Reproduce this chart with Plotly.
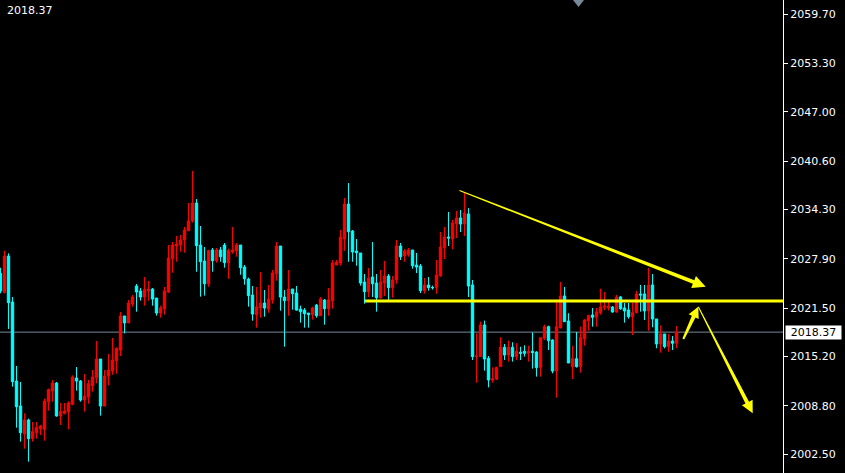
import math
import plotly.graph_objects as go

# ---------------- data ----------------
open_ = [
    2026.01, 2023.54, 2028.26, 2022.28, 2012.02, 2008.77, 2005.14, 2006.96, 2004.57, 2005.31,
    2005.83, 2005.74, 2009.34, 2010.72, 2011.76, 2007.48, 2007.82, 2008.04, 2008.99, 2012.41,
    2012.02, 2009.55, 2009.94, 2011.37, 2012.45, 2014.88, 2008.77, 2012.67, 2013.32, 2014.66,
    2016.05, 2020.47, 2019.56, 2022.02, 2024.36, 2023.71, 2022.93, 2023.71, 2023.97, 2022.80,
    2020.85, 2021.42, 2023.58, 2027.91, 2029.56, 2029.69, 2030.34, 2031.55, 2032.81, 2035.14,
    2029.69, 2027.61, 2024.66, 2029.04, 2027.65, 2029.04, 2029.69, 2027.39, 2028.78, 2028.95,
    2029.69, 2026.83, 2025.27, 2023.19, 2020.64, 2021.50, 2022.15, 2021.37, 2022.54, 2025.96,
    2029.56, 2022.93, 2022.46, 2023.97, 2023.45, 2021.37, 2021.24, 2020.85, 2020.64, 2021.89,
    2020.51, 2022.54, 2021.42, 2022.46, 2027.09, 2027.35, 2030.47, 2035.01, 2031.51, 2028.91,
    2028.65, 2024.88, 2023.63, 2025.53, 2024.75, 2022.85, 2024.75, 2025.66, 2024.15, 2025.14,
    2029.56, 2028.26, 2028.43, 2029.04, 2027.09, 2026.96, 2023.76, 2024.49, 2024.15, 2024.15,
    2025.70, 2029.34, 2030.73, 2030.47, 2032.42, 2033.20, 2032.42, 2033.72, 2024.50, 2015.19,
    2015.19, 2019.30, 2014.97, 2012.15, 2012.28, 2013.89, 2016.40, 2015.40, 2016.40, 2015.19,
    2015.75, 2015.88, 2015.62, 2015.88, 2015.79, 2013.76, 2017.57, 2019.08, 2017.35, 2013.32,
    2018.91, 2023.07, 2019.82, 2013.89, 2014.92, 2013.89, 2017.52, 2019.86, 2020.60, 2020.30,
    2020.90, 2021.59, 2021.51, 2021.63, 2020.99, 2022.94, 2021.51, 2021.25, 2020.38, 2020.90,
    2023.33, 2023.33, 2021.12, 2024.50, 2020.08, 2016.83, 2018.13, 2016.49, 2017.22, 2016.92,
]
high = [
    2026.74, 2028.95, 2028.61, 2022.93, 2013.97, 2011.89, 2007.82, 2007.13, 2006.70, 2006.70,
    2006.31, 2009.73, 2011.03, 2012.15, 2011.89, 2009.16, 2009.16, 2009.38, 2012.76, 2013.84,
    2012.15, 2012.93, 2012.15, 2013.45, 2017.22, 2014.88, 2013.45, 2015.53, 2017.61, 2016.39,
    2020.98, 2020.47, 2022.54, 2023.19, 2024.62, 2024.10, 2025.53, 2025.01, 2024.10, 2022.80,
    2021.81, 2024.23, 2029.69, 2030.08, 2030.86, 2030.99, 2032.03, 2035.14, 2039.30, 2035.66,
    2032.16, 2029.43, 2029.08, 2029.30, 2029.30, 2029.43, 2029.95, 2029.21, 2032.03, 2029.95,
    2029.69, 2027.09, 2025.44, 2024.36, 2024.23, 2026.18, 2023.84, 2024.49, 2026.44, 2030.08,
    2029.56, 2023.84, 2026.44, 2023.97, 2024.36, 2021.81, 2021.50, 2020.85, 2021.68, 2022.02,
    2022.93, 2022.67, 2024.10, 2027.74, 2027.74, 2031.64, 2035.79, 2037.74, 2031.64, 2030.47,
    2028.65, 2025.92, 2026.70, 2030.08, 2025.92, 2026.44, 2027.61, 2025.92, 2025.66, 2030.34,
    2029.95, 2029.17, 2029.30, 2029.04, 2028.65, 2027.22, 2025.40, 2025.53, 2024.40, 2027.74,
    2031.38, 2032.03, 2033.98, 2032.94, 2034.11, 2034.24, 2036.57, 2034.49, 2025.15, 2018.22,
    2019.73, 2019.86, 2015.27, 2013.80, 2013.89, 2017.70, 2016.83, 2017.26, 2017.05, 2016.92,
    2016.48, 2016.66, 2016.61, 2018.34, 2015.88, 2017.70, 2019.34, 2019.21, 2017.44, 2022.55,
    2024.89, 2024.24, 2020.82, 2016.61, 2018.39, 2019.08, 2020.04, 2020.64, 2021.51, 2021.51,
    2024.02, 2023.59, 2022.55, 2021.77, 2023.20, 2023.07, 2022.16, 2022.16, 2022.20, 2023.71,
    2024.50, 2024.50, 2026.70, 2025.92, 2020.08, 2019.26, 2018.13, 2018.13, 2017.87, 2019.17,
]
low = [
    2023.41, 2023.41, 2018.78, 2011.29, 2005.96, 2004.14, 2003.23, 2001.54, 2004.14, 2004.53,
    2005.01, 2004.27, 2008.17, 2009.34, 2007.39, 2006.31, 2007.69, 2005.74, 2008.86, 2010.77,
    2009.34, 2008.04, 2009.08, 2010.64, 2011.72, 2007.52, 2008.77, 2011.46, 2012.84, 2012.97,
    2015.27, 2018.21, 2019.56, 2021.68, 2021.03, 2022.46, 2021.81, 2022.46, 2021.81, 2020.51,
    2020.25, 2020.64, 2023.45, 2026.09, 2027.52, 2028.82, 2028.69, 2031.55, 2032.59, 2026.22,
    2022.98, 2023.11, 2024.27, 2026.22, 2027.39, 2027.52, 2026.74, 2025.31, 2028.56, 2028.17,
    2025.83, 2024.53, 2021.68, 2019.86, 2018.95, 2020.25, 2020.38, 2020.90, 2022.07, 2025.05,
    2021.16, 2016.48, 2020.51, 2021.29, 2021.16, 2019.60, 2018.95, 2018.95, 2019.99, 2020.25,
    2020.51, 2019.34, 2020.51, 2021.42, 2027.09, 2027.00, 2028.95, 2027.52, 2027.52, 2027.00,
    2024.41, 2022.07, 2022.93, 2022.93, 2021.03, 2022.72, 2023.06, 2022.54, 2022.85, 2024.66,
    2027.74, 2027.52, 2028.17, 2026.61, 2026.05, 2023.45, 2023.37, 2023.76, 2023.90, 2023.37,
    2025.57, 2027.87, 2029.56, 2029.13, 2030.60, 2031.38, 2030.86, 2022.93, 2014.75, 2011.81,
    2015.19, 2013.37, 2011.20, 2011.81, 2012.15, 2013.89, 2014.75, 2014.54, 2014.54, 2014.75,
    2014.75, 2015.19, 2014.54, 2013.63, 2012.59, 2012.59, 2017.35, 2016.05, 2013.02, 2009.86,
    2018.91, 2019.73, 2014.36, 2012.28, 2013.76, 2013.11, 2016.61, 2018.56, 2019.08, 2019.08,
    2020.64, 2021.25, 2021.16, 2020.90, 2020.90, 2021.25, 2019.60, 2020.12, 2018.00, 2020.82,
    2021.03, 2019.95, 2018.56, 2019.00, 2016.27, 2015.70, 2016.27, 2015.83, 2016.05, 2016.27,
]
close = [
    2023.71, 2028.26, 2022.20, 2011.94, 2008.69, 2005.31, 2006.96, 2004.53, 2005.44, 2005.96,
    2006.13, 2009.42, 2010.90, 2011.76, 2007.48, 2008.04, 2008.13, 2009.16, 2012.54, 2012.02,
    2009.55, 2010.03, 2011.68, 2012.54, 2014.88, 2008.77, 2012.67, 2013.45, 2014.75, 2016.26,
    2020.47, 2019.56, 2022.15, 2022.93, 2023.58, 2022.93, 2023.89, 2023.97, 2022.67, 2020.85,
    2021.50, 2023.71, 2028.00, 2029.69, 2029.82, 2030.34, 2031.64, 2032.81, 2035.14, 2029.60,
    2027.52, 2024.66, 2028.95, 2027.65, 2029.04, 2028.17, 2027.39, 2028.95, 2029.04, 2029.69,
    2026.74, 2025.31, 2023.11, 2020.72, 2021.63, 2022.15, 2021.50, 2022.67, 2026.05, 2029.56,
    2022.93, 2022.46, 2023.97, 2023.37, 2021.24, 2021.03, 2020.77, 2020.64, 2021.50, 2020.51,
    2022.67, 2021.42, 2022.54, 2027.35, 2027.48, 2030.73, 2035.01, 2031.42, 2028.78, 2028.69,
    2024.75, 2023.63, 2025.40, 2024.66, 2022.85, 2024.88, 2025.66, 2024.15, 2025.14, 2029.56,
    2028.17, 2028.91, 2029.04, 2027.00, 2026.83, 2023.76, 2024.49, 2024.15, 2024.15, 2025.79,
    2029.43, 2030.73, 2030.60, 2032.55, 2033.20, 2032.42, 2033.85, 2024.36, 2015.19, 2015.27,
    2019.30, 2014.88, 2012.15, 2012.28, 2013.76, 2016.40, 2015.40, 2016.40, 2015.19, 2015.88,
    2015.62, 2015.62, 2015.88, 2015.71, 2013.76, 2017.65, 2019.08, 2017.26, 2013.32, 2019.08,
    2023.07, 2019.73, 2014.36, 2014.92, 2013.89, 2017.65, 2019.95, 2020.51, 2020.30, 2020.99,
    2021.63, 2021.77, 2021.77, 2020.99, 2022.94, 2021.42, 2021.12, 2020.38, 2020.90, 2023.33,
    2023.20, 2021.12, 2024.50, 2020.08, 2016.83, 2018.13, 2016.49, 2017.22, 2016.92, 2018.37,
]
bar_index = list(range(1, len(close) + 1))

tick_values = [2059.70, 2053.30, 2047.00, 2040.60, 2034.30, 2027.90, 2021.50, 2015.20, 2008.80, 2002.50]
tick_labels = ["2059.70", "2053.30", "2047.00", "2040.60", "2034.30", "2027.90", "2021.50", "2015.20", "2008.80", "2002.50"]

last_price = 2018.37
last_price_label = "2018.37"

# hand-drawn annotations (bar index, price)
level_price = 2022.42
level_start = 92.1
trend_arrow = [(115.75, 2036.77), (177.3, 2024.27)]
up_arrow = [(171.7, 2017.48), (175.45, 2021.68)]
down_arrow = [(175.45, 2021.68), (189.05, 2007.83)]

# ---------------- layout geometry ----------------
FIG_W, FIG_H = 845, 473
MARGIN_R = 62
PLOT_W = FIG_W - MARGIN_R
PLOT_H = FIG_H
X_RANGE = [0.875, 196.625]
Y_RANGE = [2000.07, 2061.52]


def to_px(i, p):
    x = (i - X_RANGE[0]) / (X_RANGE[1] - X_RANGE[0]) * PLOT_W
    y = (Y_RANGE[1] - p) / (Y_RANGE[1] - Y_RANGE[0]) * PLOT_H
    return x, y


def to_data(x, y):
    i = X_RANGE[0] + x / PLOT_W * (X_RANGE[1] - X_RANGE[0])
    p = Y_RANGE[1] - y / PLOT_H * (Y_RANGE[1] - Y_RANGE[0])
    return i, p


def arrow_path(tail, tip, w0, w1, head_len, head_half):
    x0, y0 = to_px(*tail)
    x1, y1 = to_px(*tip)
    dx, dy = x1 - x0, y1 - y0
    L = math.hypot(dx, dy)
    ux, uy = dx / L, dy / L
    nx, ny = -uy, ux
    bx, by = x1 - ux * head_len, y1 - uy * head_len
    pts = [
        (x0 + nx * w0 / 2, y0 + ny * w0 / 2),
        (bx + nx * w1 / 2, by + ny * w1 / 2),
        (bx + nx * head_half, by + ny * head_half),
        (x1, y1),
        (bx - nx * head_half, by - ny * head_half),
        (bx - nx * w1 / 2, by - ny * w1 / 2),
        (x0 - nx * w0 / 2, y0 - ny * w0 / 2),
    ]
    d = [to_data(px, py) for px, py in pts]
    return "M " + " L ".join(f"{a:.4f},{b:.4f}" for a, b in d) + " Z"


YELLOW = "#FFFF00"
GREY = "#778899"
FONT = "DejaVu Sans"

fig = go.Figure()
fig.add_trace(go.Candlestick(
    x=bar_index, open=open_, high=high, low=low, close=close,
    increasing=dict(line=dict(color="#FF0000", width=1), fillcolor="#FF0000"),
    decreasing=dict(line=dict(color="#00FFFF", width=1), fillcolor="#00FFFF"),
    whiskerwidth=0, hoverinfo="skip", showlegend=False,
))

shapes = [
    dict(type="line", xref="paper", yref="y", x0=0, x1=1, y0=last_price, y1=last_price,
         line=dict(color=GREY, width=1), layer="below"),
    dict(type="line", xref="x", yref="y", x0=level_start, x1=X_RANGE[1], y0=level_price, y1=level_price,
         line=dict(color=YELLOW, width=3)),
    dict(type="path", xref="x", yref="y", path=arrow_path(*trend_arrow, 1.0, 4.0, 13, 6.5),
         fillcolor=YELLOW, line=dict(width=0)),
    dict(type="path", xref="x", yref="y", path=arrow_path(*up_arrow, 2.0, 4.0, 11, 5.5),
         fillcolor=YELLOW, line=dict(width=0)),
    dict(type="path", xref="x", yref="y", path=arrow_path(*down_arrow, 1.0, 4.0, 12, 6.0),
         fillcolor=YELLOW, line=dict(width=0)),
    dict(type="path", xref="paper", yref="paper",
         path=f"M {573/PLOT_W},1 L {584/PLOT_W},1 L {578.5/PLOT_W},{1-7/PLOT_H} Z",
         fillcolor=GREY, line=dict(width=0)),
]

annotations = [
    dict(xref="paper", yref="paper", x=5 / PLOT_W, y=1, xanchor="left", yanchor="top", yshift=-2,
         text=last_price_label, showarrow=False, font=dict(family=FONT, size=11, color="white")),
    dict(xref="paper", yref="y", x=1, y=last_price, xanchor="left", yanchor="middle", xshift=2,
         text=last_price_label, showarrow=False, bgcolor="white", width=55, height=13, borderpad=0,
         font=dict(family=FONT, size=11, color="black")),
]

fig.update_layout(
    width=FIG_W, height=FIG_H,
    margin=dict(l=0, r=MARGIN_R, t=0, b=0, autoexpand=False),
    paper_bgcolor="black", plot_bgcolor="black",
    showlegend=False,
    boxgap=0.4, boxgroupgap=0,
    shapes=shapes, annotations=annotations,
    xaxis=dict(visible=False, range=X_RANGE, rangeslider=dict(visible=False), fixedrange=True),
    yaxis=dict(side="right", range=Y_RANGE, tickmode="array", tickvals=tick_values, ticktext=tick_labels,
               showgrid=False, zeroline=False, showline=True, linecolor="white", linewidth=1,
               ticks="outside", ticklen=4, tickcolor="white", automargin=False,
               tickfont=dict(family=FONT, size=11, color="white"), fixedrange=True),
)

fig.write_html(
    "out.html",
    config={"displayModeBar": False},
    post_script="document.body.style.margin='0';document.body.style.background='black';",
)
